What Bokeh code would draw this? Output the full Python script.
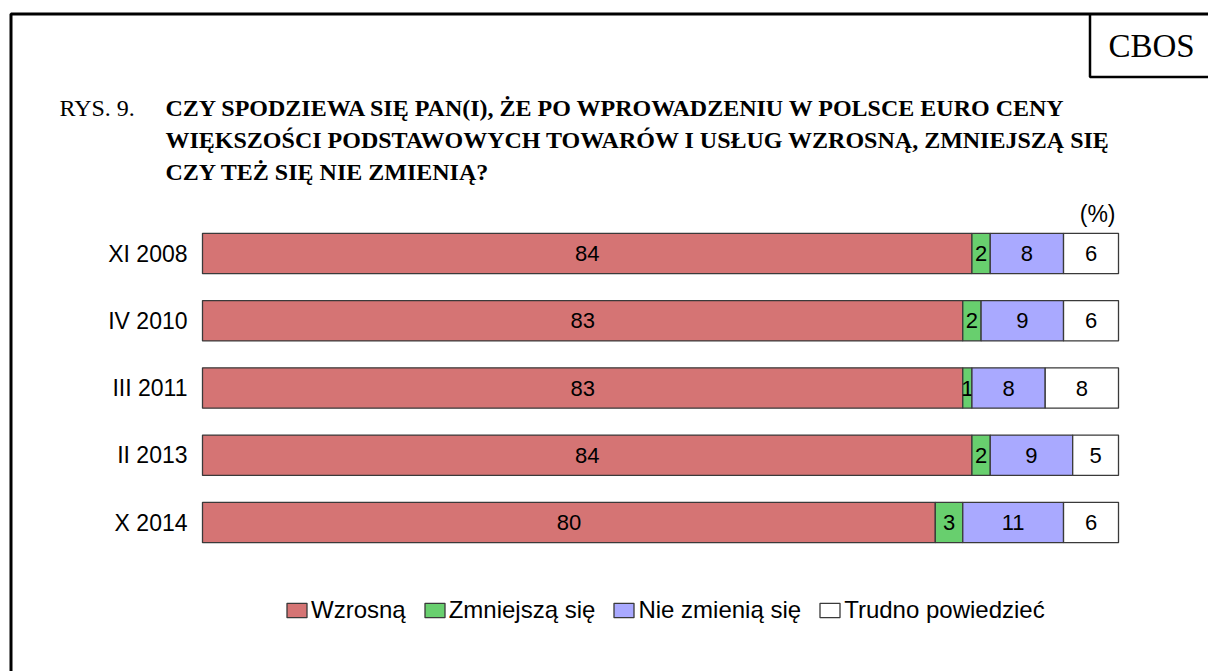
from bokeh.plotting import figure
from bokeh.models import Range1d, Label, Legend, LegendItem, ColumnDataSource
from bokeh.core.properties import value
from bokeh.embed import file_html
from bokeh.resources import INLINE

# ---- data ----
categories = ["XI 2008", "IV 2010", "III 2011", "II 2013", "X 2014"]
series_names = ["Wzrosną", "Zmniejszą się", "Nie zmienią się", "Trudno powiedzieć"]
wzrosna = [84, 83, 83, 84, 80]
zmniejsza = [2, 2, 1, 2, 3]
nie_zmieni = [8, 9, 8, 9, 11]
trudno = [6, 6, 8, 5, 6]
colors = ["#D57474", "#68CF6E", "#A9A9FF", "#FFFFFF"]

title_prefix = "RYS. 9."
title_lines = [
    "CZY SPODZIEWA SIĘ PAN(I), ŻE PO WPROWADZENIU W POLSCE EURO CENY",
    "WIĘKSZOŚCI PODSTAWOWYCH TOWARÓW I USŁUG WZROSNĄ, ZMNIEJSZĄ SIĘ",
    "CZY TEŻ SIĘ NIE ZMIENIĄ?",
]

# ---- geometry (page pixel -> data) ----
W, H = 1208, 671
XS = 9.16            # px per percent
X0 = -202.0 / XS     # data x at canvas left
YS = 67.25           # px per row
Y_TOP = (0 - 253) / YS
Y_BOT = (H - 253) / YS


def px(page_x):
    return X0 + page_x / XS


def py(page_y):
    return (page_y - 253) / YS


p = figure(width=W, height=H, output_backend="svg", toolbar_location=None,
           x_range=Range1d(X0, X0 + W / XS), y_range=Range1d(Y_BOT, Y_TOP),
           x_axis_type=None, y_axis_type=None, min_border=0,
           outline_line_color=None, background_fill_color="white")
p.grid.visible = False

series = [wzrosna, zmniejsza, nie_zmieni, trudno]
rows = list(range(len(categories)))
left = [0] * len(categories)
renderers = []
for name, vals, col in zip(series_names, series, colors):
    right = [l + v for l, v in zip(left, vals)]
    src = ColumnDataSource(dict(y=rows, left=left, right=right,
                                mid=[(l + r) / 2 for l, r in zip(left, right)],
                                lab=[str(v) for v in vals]))
    r = p.hbar(y="y", left="left", right="right", height=0.6, source=src,
               fill_color=col, line_color="#3a3a3a", line_width=1.3)
    renderers.append(r)
    p.text(x="mid", y="y", text="lab", source=src, text_align="center",
           text_baseline="middle", text_font=value("Liberation Sans"),
           text_font_size="22px", text_color="black")
    left = right

# category labels
p.text(x=[px(187)] * len(categories), y=rows, text=categories,
       text_align="right", text_baseline="middle",
       text_font=value("Liberation Sans"), text_font_size="23px",
       text_color="black")

# (%)
p.add_layout(Label(x=px(1115), y=py(213), text="(%)", text_align="right",
                   text_baseline="middle", text_font="Liberation Sans",
                   text_font_size="23px", text_color="black"))

# title
title_baselines = [107, 139, 171]
p.add_layout(Label(x=px(59), y=py(title_baselines[0]), text=title_prefix,
                   text_baseline="alphabetic", text_font="Liberation Serif",
                   text_font_size="24px", text_color="black"))
for line, b in zip(title_lines, title_baselines):
    p.add_layout(Label(x=px(165), y=py(b), text=line,
                       text_baseline="alphabetic", text_font="Liberation Serif",
                       text_font_style="bold", text_font_size="24px",
                       text_color="black"))

# CBOS box and frame
p.multi_line(xs=[[px(10.5), px(10.5), px(1300)], [px(1089.5), px(1089.5), px(1300)]],
             ys=[[py(700), py(13.5), py(13.5)], [py(13.5), py(76.5), py(76.5)]],
             line_color="black", line_width=[3, 2.5])
p.add_layout(Label(x=px(1151), y=py(45), text="CBOS", text_align="center",
                   text_baseline="middle", text_font="Liberation Serif",
                   text_font_size="33px", text_color="black"))

# legend
legend = Legend(items=[LegendItem(label=n, renderers=[r]) for n, r in zip(series_names, renderers)],
                orientation="horizontal", location=(284, 47),
                glyph_width=25, glyph_height=18, label_standoff=2, spacing=16,
                padding=0, margin=0, border_line_color=None,
                background_fill_alpha=0, label_text_color="black",
                label_text_font="Liberation Sans", label_text_font_size="24px")
p.add_layout(legend)

open("out.html", "w").write(file_html(p, INLINE))
